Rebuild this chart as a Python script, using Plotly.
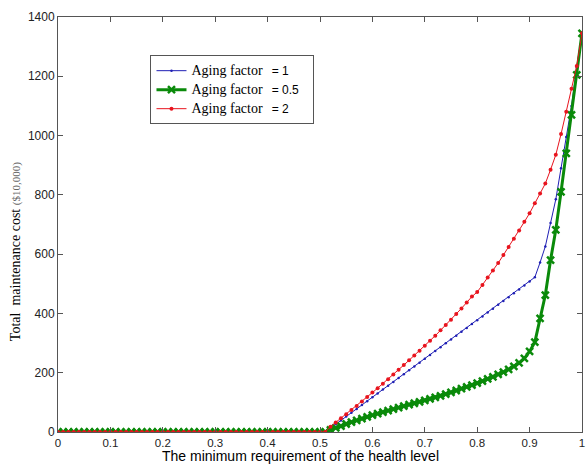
import plotly.graph_objects as go

x_vals = [round(i * 0.01, 2) for i in range(101)]

zeros = [0] * 52  # 0.00 .. 0.51

aging_1 = zeros + [
    13, 26, 39, 52, 65, 78, 91, 104, 117,
    130, 143, 156, 169, 182, 195, 208, 221, 234, 247,
    260, 273, 286, 299, 312, 325, 338, 351, 364, 377,
    390, 403, 416, 429, 442, 455, 468, 481, 494, 508,
    522, 572, 626, 705, 785, 890, 995, 1100, 1230, 1345,
]
aging_05 = zeros + [
    7, 14, 20, 27, 33, 39, 45, 51, 57,
    62, 67, 72, 77, 82, 87, 92, 97, 102, 107,
    112, 117, 122, 128, 134, 140, 146, 152, 158, 165,
    172, 179, 186, 194, 202, 211, 221, 233, 248, 272,
    303, 383, 462, 580, 682, 810, 940, 1070, 1205, 1345,
]
aging_2 = zeros + [
    18, 32, 46, 60, 74, 88, 103, 118, 133,
    148, 163, 178, 194, 210, 226, 242, 258, 274, 291,
    308, 325, 343, 361, 379, 398, 417, 437, 457, 472,
    496, 521, 545, 570, 597, 624, 652, 680, 709, 738,
    772, 805, 838, 885, 935, 1005, 1080, 1158, 1235, 1345,
]

x_ticks = [0, 0.1, 0.2, 0.3, 0.4, 0.5, 0.6, 0.7, 0.8, 0.9, 1]
x_tick_text = ["0", "0.1", "0.2", "0.3", "0.4", "0.5", "0.6", "0.7", "0.8", "0.9", "1"]
y_ticks = [0, 200, 400, 600, 800, 1000, 1200, 1400]

def lname(val):
    return ("<span style='font-size:14px'>Aging factor</span>   "
            "<span style='font-family:Liberation Sans, Arial; font-size:12px'>= "
            + val + "</span>   ")

fig = go.Figure()
fig.add_trace(go.Scatter(
    x=x_vals, y=aging_1, mode="lines+markers", name=lname("1"),
    line=dict(color="#1f1fb4", width=1),
    marker=dict(symbol="circle", size=2.5, color="#1f1fb4"),
))
fig.add_trace(go.Scatter(
    x=x_vals, y=aging_05, mode="lines+markers", name=lname("0.5"),
    line=dict(color="#0a8a0a", width=3),
    marker=dict(symbol="x-thin-open", size=7, color="#0a8a0a",
                line=dict(color="#0a8a0a", width=2.5)),
))
fig.add_trace(go.Scatter(
    x=x_vals, y=aging_2, mode="lines+markers", name=lname("2"),
    line=dict(color="#e8141e", width=1),
    marker=dict(symbol="circle", size=4, color="#e8141e"),
))

axis_common = dict(
    showline=True, linecolor="#555", linewidth=1, mirror="allticks",
    ticks="inside", ticklen=5, tickcolor="#555", showgrid=False, zeroline=False,
    ticklabeloverflow="allow",
    tickfont=dict(family="Liberation Sans, Arial", size=11.5, color="#222"),
)

fig.update_layout(
    width=588, height=465,
    margin=dict(l=58, r=3, t=17, b=33),
    paper_bgcolor="white", plot_bgcolor="white",
    xaxis=dict(range=[0, 1], tickvals=x_ticks, ticktext=x_tick_text, **axis_common),
    yaxis=dict(range=[0, 1400], tickvals=y_ticks,
               **{**axis_common, "tickfont": dict(family="Liberation Sans, Arial", size=12, color="#222")}),
    showlegend=True,
    legend=dict(
        x=0.1765, y=0.908, xanchor="left", yanchor="top",
        bgcolor="white", bordercolor="#555", borderwidth=1,
        font=dict(family="Liberation Serif, Times New Roman", size=12, color="black"),
        tracegroupgap=0, itemwidth=30,
    ),
    annotations=[
        dict(
            text="Total  maintenance cost <span style='font-size:11px; color:#666'>($10,000)</span>",
            xref="paper", yref="paper", x=-0.0797, y=0.434,
            xanchor="center", yanchor="middle", textangle=-90, showarrow=False,
            font=dict(family="Liberation Serif, Times New Roman", size=14, color="black"),
        ),
        dict(
            text="The minimum requirement of the health level",
            xref="paper", yref="paper", x=0.463, y=-0.0795,
            xanchor="center", yanchor="bottom", showarrow=False, borderpad=0,
            font=dict(family="Liberation Sans, Arial", size=14, color="black"),
        ),
    ],
)

fig.write_html("out.html", config={"displayModeBar": False},
               post_script="document.body.style.margin='0';")
